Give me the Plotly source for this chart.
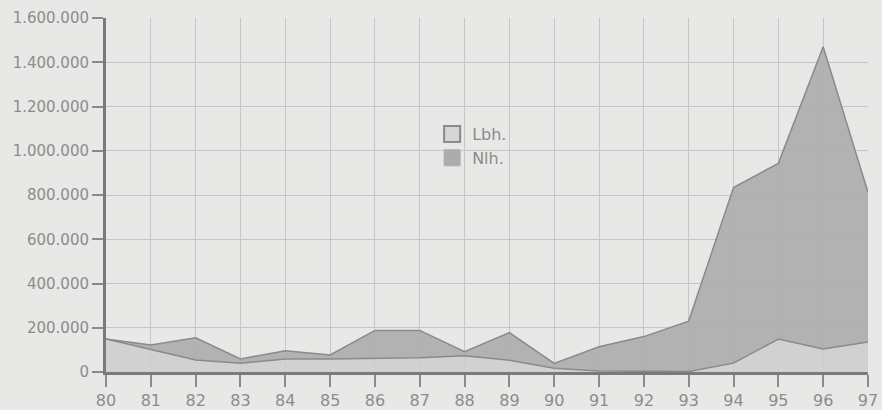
import plotly.graph_objects as go

years = list(range(80, 98))
year_labels = [str(y) for y in years]
lbh = [149000, 100000, 54000, 39000, 59000, 59000, 62000, 64000, 74000, 53000,
       17000, 5000, 3000, 2000, 40000, 149000, 104000, 136000]
nlh_total = [149000, 122000, 155000, 59000, 96000, 77000, 188000, 188000, 92000, 178000,
             39000, 114000, 160000, 230000, 834000, 943000, 1470000, 812000]
nlh = [t - l for t, l in zip(nlh_total, lbh)]
y_ticks = [0, 200000, 400000, 600000, 800000, 1000000, 1200000, 1400000, 1600000]

line_col = "#8a8a8a"
light_fill = "rgba(205,205,205,0.85)"
dark_fill = "rgba(172,172,172,0.9)"
font_col = "#8c8c8c"

fig = go.Figure()
fig.add_trace(go.Scatter(x=years, y=lbh, stackgroup="a", mode="lines",
                         line=dict(color=line_col, width=1.5), fillcolor=light_fill,
                         name="Lbh.", showlegend=False))
fig.add_trace(go.Scatter(x=years, y=nlh, stackgroup="a", mode="lines",
                         line=dict(color=line_col, width=1.5), fillcolor=dark_fill,
                         name="Nlh.", showlegend=False))
# legend swatches
fig.add_trace(go.Scatter(x=[None], y=[None], mode="markers", name="Lbh.",
                         marker=dict(symbol="square", size=16, color="#d6d6d6",
                                     line=dict(color="#8a8a8a", width=2))))
fig.add_trace(go.Scatter(x=[None], y=[None], mode="markers", name="Nlh.",
                         marker=dict(symbol="square", size=16, color="#acacac",
                                     line=dict(color="#acacac", width=1))))

fig.update_layout(
    width=882, height=410,
    margin=dict(l=106, r=14, t=18, b=38),
    paper_bgcolor="#e8e8e6", plot_bgcolor="#e8e8e6",
    separators=",.",
    font=dict(family="DejaVu Sans, sans-serif", color=font_col, size=15),
    legend=dict(x=0.428, y=0.72, xanchor="left", yanchor="top",
                bgcolor="rgba(0,0,0,0)", font=dict(size=16, color=font_col),
                traceorder="normal", itemwidth=30, tracegroupgap=0),
    showlegend=True,
)
fig.update_xaxes(range=[80, 97], tickmode="array", tickvals=years, ticktext=year_labels,
                 showgrid=True, gridcolor="#c6c6c6", gridwidth=1,
                 ticks="outside", ticklen=12, tickcolor="#8a8a8a", tickwidth=1.5,
                 showline=True, linecolor="#7a7a7a", linewidth=3, automargin=False,
                 mirror=False, zeroline=False, tickfont=dict(size=16))
fig.update_yaxes(range=[0, 1600000], tickmode="array", tickvals=y_ticks,
                 tickformat=",d", showgrid=True, gridcolor="#c6c6c6", gridwidth=1,
                 ticks="outside", ticklen=11, tickcolor="#8a8a8a", tickwidth=1.5,
                 showline=True, linecolor="#7a7a7a", linewidth=3, automargin=False,
                 zeroline=False, tickfont=dict(size=15))
fig.write_html("out.html",
               config={"displayModeBar": False},
               post_script="document.body.style.margin='0';"
                           "document.body.style.overflow='hidden';"
                           "document.body.style.background='#e8e8e6';")
